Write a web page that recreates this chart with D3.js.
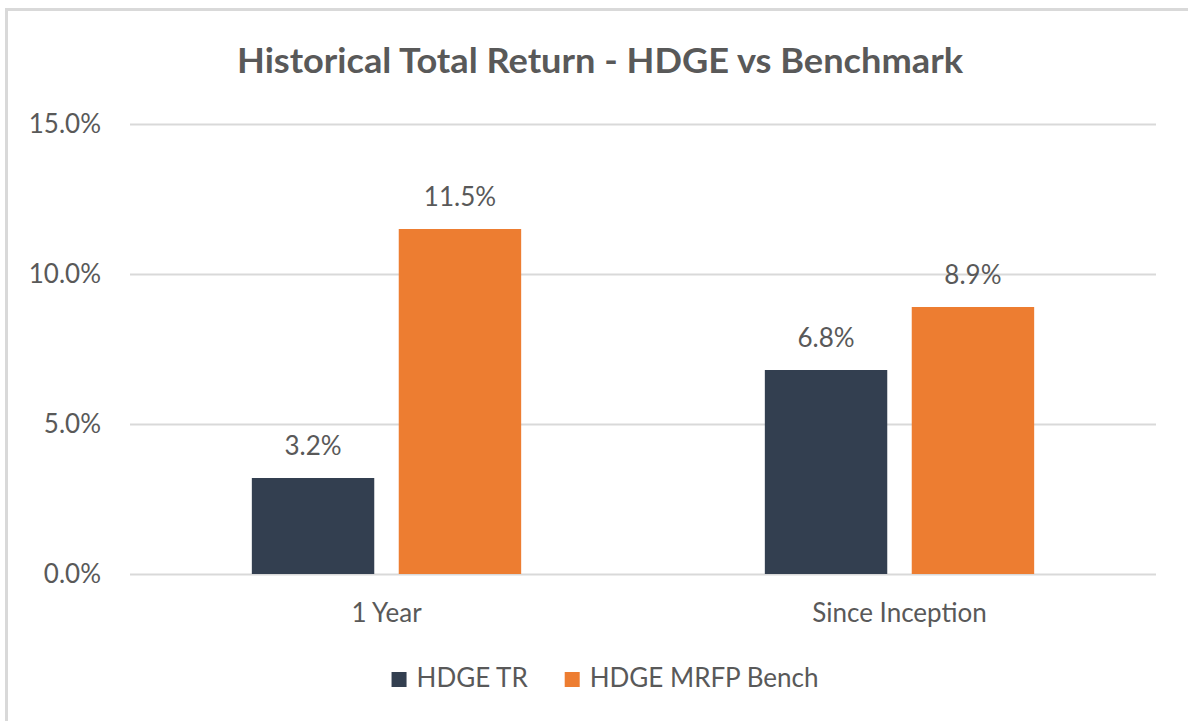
<!DOCTYPE html>
<html>
<head>
<meta charset="utf-8">
<script src="https://cdn.jsdelivr.net/npm/d3@7"></script>
<style>
  body { margin: 0; background: #fff; }
  svg { display: block; font-family: Lato, "Open Sans", sans-serif; }
</style>
</head>
<body>
<script>
const WIDTH = 1188;
const HEIGHT = 721;
const PLOT_LEFT = 130;
const PLOT_RIGHT = 1156;
const PLOT_TOP = 124;
const PLOT_BOTTOM = 574;

// data
var categories = ['1 Year', 'Since Inception'];
var series = ['HDGE TR', 'HDGE MRFP Bench'];
var hdgeTR = [3.2, 6.8];
var hdgeBench = [11.5, 8.9];
var yTicks = [0, 5, 10, 15];
var colors = ['#333f50', '#ed7d31'];

var values = [hdgeTR, hdgeBench];

var svg = d3.select('body').append('svg')
	.attr('width', WIDTH)
	.attr('height', HEIGHT);

// frame (right and bottom edges fall outside the picture)
svg.append('rect')
	.attr('x', 6.5)
	.attr('y', 9.5)
	.attr('width', WIDTH + 20)
	.attr('height', HEIGHT + 20)
	.style('fill', 'none')
	.style('stroke', '#d9d9d9')
	.style('stroke-width', 3);

svg.append('text')
	.attr('x', 600)
	.attr('y', 73)
	.attr('text-anchor', 'middle')
	.attr('textLength', 726)
	.attr('lengthAdjust', 'spacingAndGlyphs')
	.style('font-size', '35px')
	.style('font-weight', 'bold')
	.style('fill', '#595959')
	.text('Historical Total Return - HDGE vs Benchmark');

var yScale = d3.scaleLinear()
	.domain([0, 15])
	.range([PLOT_BOTTOM, PLOT_TOP]);

var x0 = d3.scaleBand()
	.domain(categories)
	.range([PLOT_LEFT, PLOT_RIGHT]);

var groupWidth = x0.bandwidth() * 0.525;

var x1 = d3.scaleBand()
	.domain(series)
	.range([0, groupWidth])
	.paddingInner(1/6);

var yAxis = d3.axisLeft(yScale)
	.tickValues(yTicks)
	.tickSize(-(PLOT_RIGHT - PLOT_LEFT))
	.tickPadding(29)
	.tickFormat(function(d){ return d3.format('.1f')(d) + '%'; });

var gy = svg.append('g')
	.attr('transform', 'translate(' + PLOT_LEFT + ',0)')
	.call(yAxis);
gy.select('.domain').remove();
gy.selectAll('line').style('stroke', '#d9d9d9').style('stroke-width', 2);
gy.selectAll('text')
	.style('font-size', '26px')
	.style('font-family', 'Lato')
	.style('fill', '#595959');

var xAxis = d3.axisBottom(x0).tickSize(0).tickPadding(29.5);
var gx = svg.append('g')
	.attr('transform', 'translate(0,' + PLOT_BOTTOM + ')')
	.call(xAxis);
gx.select('.domain').remove();
gx.selectAll('text')
	.style('font-size', '26px')
	.style('font-family', 'Lato')
	.style('fill', '#595959');

var groups = svg.append('g').selectAll('g')
	.data(categories)
	.enter().append('g')
	.attr('transform', function(d){
		return 'translate(' + (x0(d) + (x0.bandwidth() - groupWidth) / 2) + ',0)';
	});

groups.selectAll('rect')
	.data(function(d, i){
		return series.map(function(s, j){ return {s: s, j: j, v: values[j][i]}; });
	})
	.enter().append('rect')
	.attr('x', function(d){ return x1(d.s); })
	.attr('width', x1.bandwidth())
	.attr('y', function(d){ return yScale(d.v); })
	.attr('height', function(d){ return PLOT_BOTTOM - yScale(d.v); })
	.style('fill', function(d){ return colors[d.j]; });

groups.selectAll('text.value')
	.data(function(d, i){
		return series.map(function(s, j){ return {s: s, j: j, v: values[j][i]}; });
	})
	.enter().append('text')
	.classed('value', true)
	.attr('x', function(d){ return x1(d.s) + x1.bandwidth() / 2; })
	.attr('y', function(d){ return yScale(d.v) - 23; })
	.attr('text-anchor', 'middle')
	.style('font-size', '26px')
	.style('fill', '#595959')
	.text(function(d){ return d3.format('.1f')(d.v) + '%'; });

// legend, centred under the chart
var legend = svg.append('g');
var items = legend.selectAll('g')
	.data(series)
	.enter().append('g');
items.append('rect')
	.attr('width', 15)
	.attr('height', 15)
	.attr('y', 672)
	.style('fill', function(d, i){ return colors[i]; });
items.append('text')
	.attr('x', 25)
	.attr('y', 687)
	.style('font-size', '26px')
	.style('fill', '#595959')
	.text(function(d){ return d; });

var offset = 0;
var widths = [];
items.each(function(){
	var w = 25 + d3.select(this).select('text').node().getComputedTextLength();
	widths.push(w);
});
var total = d3.sum(widths) + 37 * (widths.length - 1);
var startX = 605 - total / 2;
items.attr('transform', function(d, i){
	var t = 'translate(' + (startX + offset) + ',0)';
	offset += widths[i] + 37;
	return t;
});
</script>
</body>
</html>
